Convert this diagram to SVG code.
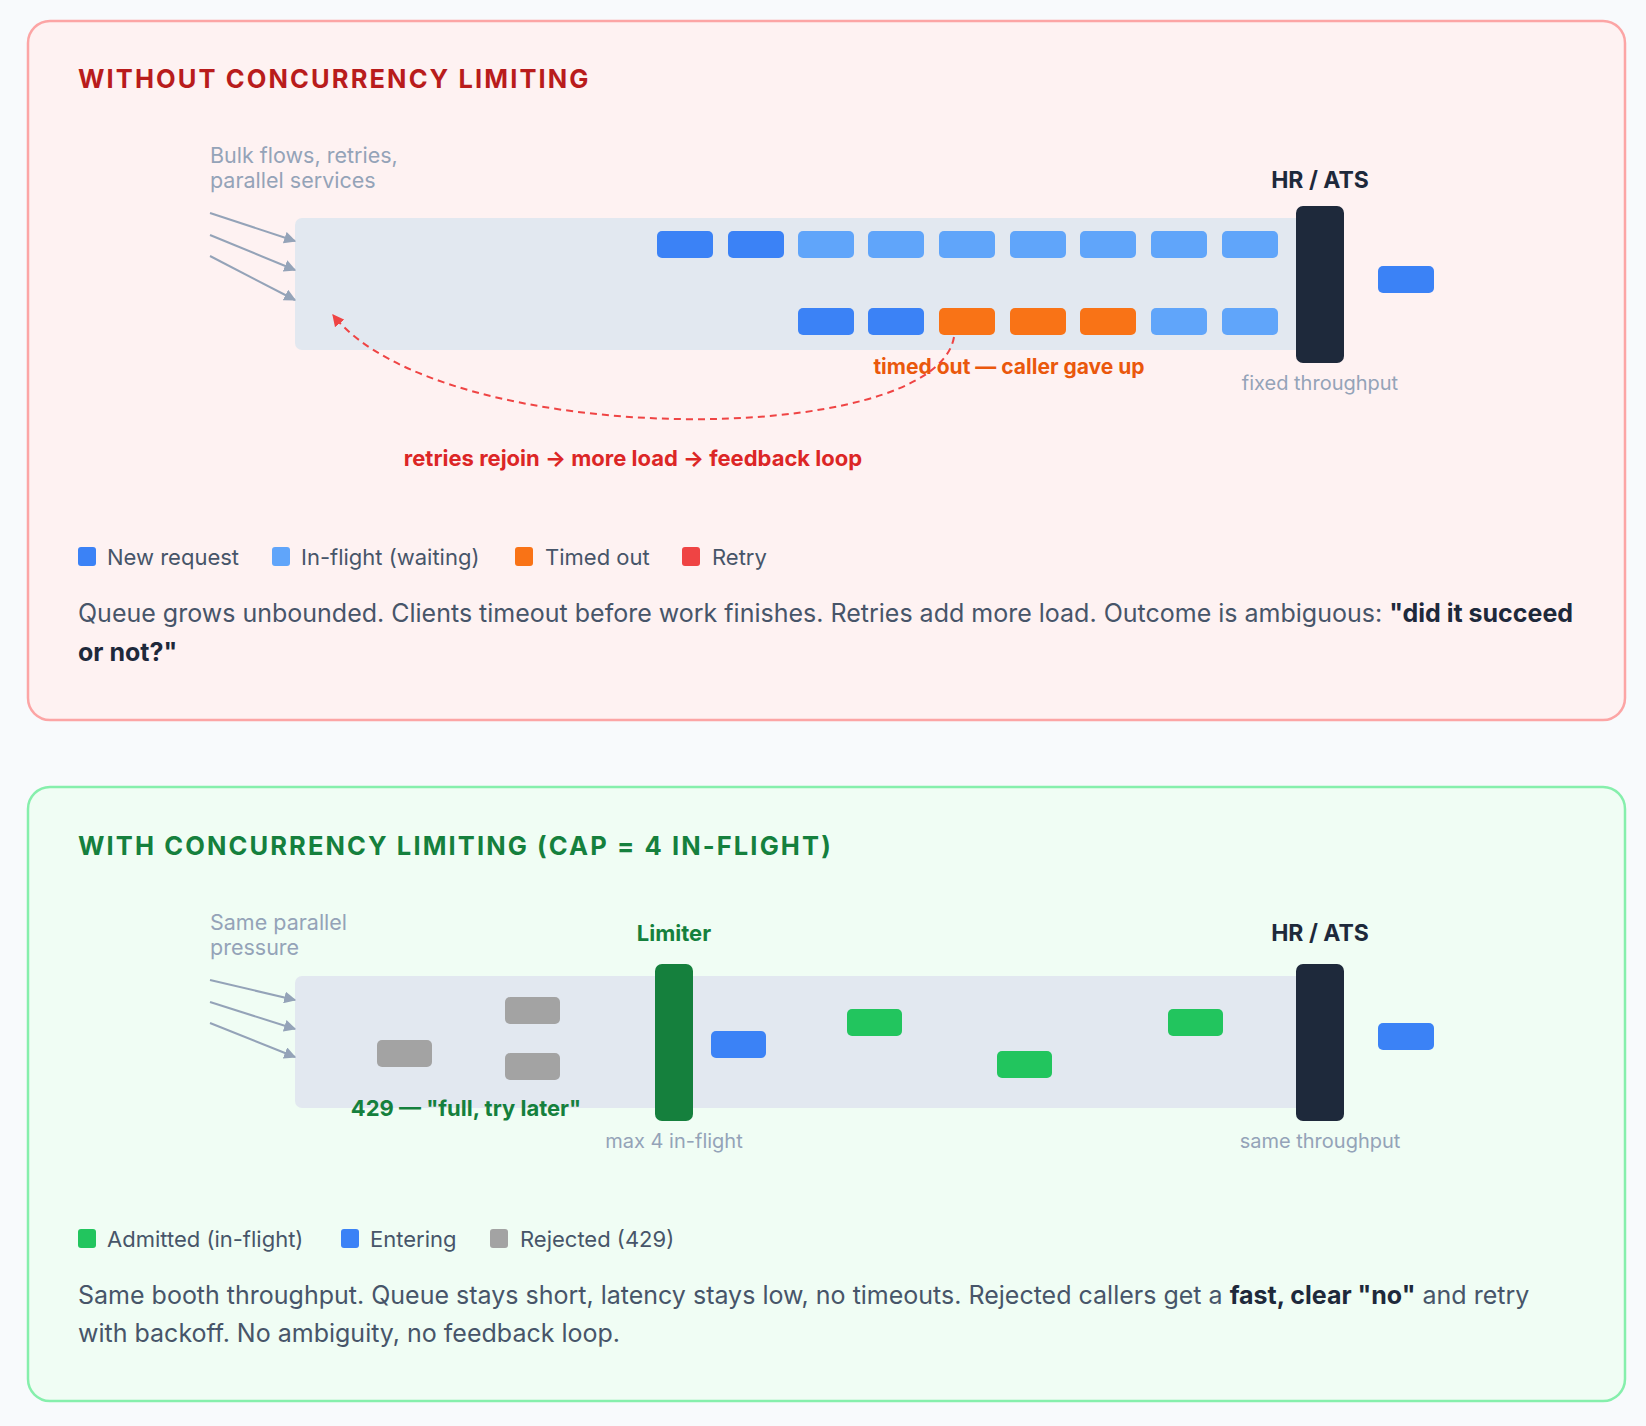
<svg xmlns="http://www.w3.org/2000/svg" width="1646" height="1426" viewBox="0 0 1646 1426">
<defs>
<style>
text{font-family:Inter,"Liberation Sans","DejaVu Sans",sans-serif}
.title{font-size:25.5px;font-weight:700;letter-spacing:2.1px}
.note{font-size:21.5px;fill:#94a3b8}
.small{font-size:20px;fill:#94a3b8}
.hdr{font-size:23px;font-weight:700;fill:#1e293b}
.leg{font-size:22px;fill:#475569}
.para{font-size:25px;fill:#475569}
.para .b{font-weight:700;fill:#1e293b}
.lane{fill:#e2e8f0}
.new{fill:#3b82f6}
.wait{fill:#60a5fa}
.tout{fill:#f97316}
.retry{fill:#ef4444}
.adm{fill:#22c55e}
.rej{fill:#a3a3a3}
.inarrow{stroke:#94a3b8;stroke-width:2;fill:none}
</style>
<marker id="ag" viewBox="0 0 10 10" refX="9" refY="5" markerWidth="6" markerHeight="6" orient="auto" markerUnits="strokeWidth"><path d="M0,0 L10,5 L0,10 z" fill="#94a3b8"/></marker>
<marker id="ar" viewBox="0 0 10 10" refX="9" refY="5" markerWidth="6" markerHeight="6" orient="auto" markerUnits="strokeWidth"><path d="M0,0 L10,5 L0,10 z" fill="#ef4444"/></marker>
</defs>
<rect width="1646" height="1426" fill="#f8fafc"/>

<!-- TOP PANEL -->
<g id="panel-without">
<rect x="28" y="21" width="1597" height="699" rx="22" fill="#fef2f2" stroke="#fca5a5" stroke-width="2.5"/>
<text class="title" x="78" y="88" fill="#b91c1c">WITHOUT CONCURRENCY LIMITING</text>
</g>
<g id="sources-top">
<text class="note" x="210" y="163">Bulk flows, retries,</text>
<text class="note" x="210" y="188">parallel services</text>
</g>
<g id="queue-top">
<rect class="lane" x="295" y="218" width="1010" height="132" rx="7"/>
<g id="row1">
<rect class="new" x="657" y="231" width="56" height="27" rx="5"/>
<rect class="new" x="728" y="231" width="56" height="27" rx="5"/>
<rect class="wait" x="798" y="231" width="56" height="27" rx="5"/>
<rect class="wait" x="868" y="231" width="56" height="27" rx="5"/>
<rect class="wait" x="939" y="231" width="56" height="27" rx="5"/>
<rect class="wait" x="1010" y="231" width="56" height="27" rx="5"/>
<rect class="wait" x="1080" y="231" width="56" height="27" rx="5"/>
<rect class="wait" x="1151" y="231" width="56" height="27" rx="5"/>
<rect class="wait" x="1222" y="231" width="56" height="27" rx="5"/>
</g>
<g id="row2">
<rect class="new" x="798" y="308" width="56" height="27" rx="5"/>
<rect class="new" x="868" y="308" width="56" height="27" rx="5"/>
<rect class="tout" x="939" y="308" width="56" height="27" rx="5"/>
<rect class="tout" x="1010" y="308" width="56" height="27" rx="5"/>
<rect class="tout" x="1080" y="308" width="56" height="27" rx="5"/>
<rect class="wait" x="1151" y="308" width="56" height="27" rx="5"/>
<rect class="wait" x="1222" y="308" width="56" height="27" rx="5"/>
</g>
</g>
<g id="hr-top">
<text class="hdr" x="1320" y="188" text-anchor="middle">HR / ATS</text>
<rect x="1296" y="206" width="48" height="157" rx="7" fill="#1e293b"/>
<text class="small" x="1320" y="390" text-anchor="middle">fixed throughput</text>
</g>
<g id="out-top">
<rect class="new" x="1378" y="266" width="56" height="27" rx="5"/>
</g>
<g id="labels-top">
<text x="1009" y="374" text-anchor="middle" font-size="21" font-weight="700" fill="#ea580c">timed out — caller gave up</text>
<text x="633" y="466" text-anchor="middle" font-size="22" font-weight="700" fill="#dc2626">retries rejoin → more load → feedback loop</text>
</g>
<g id="connectors-top">
<line class="inarrow" x1="210" y1="213" x2="295" y2="241" marker-end="url(#ag)"/>
<line class="inarrow" x1="210" y1="235" x2="295" y2="270" marker-end="url(#ag)"/>
<line class="inarrow" x1="210" y1="256" x2="295" y2="300" marker-end="url(#ag)"/>
<path d="M954,337 C935,450 440,450 333,315" fill="none" stroke="#ef4444" stroke-width="2" stroke-dasharray="7 5" marker-end="url(#ar)"/>
</g>
<g id="legend-top">
<rect class="new" x="78" y="547" width="18" height="19" rx="3"/>
<text class="leg" x="107" y="565">New request</text>
<rect class="wait" x="272" y="547" width="18" height="19" rx="3"/>
<text class="leg" x="301" y="565">In-flight (waiting)</text>
<rect class="tout" x="515" y="547" width="18" height="19" rx="3"/>
<text class="leg" x="545" y="565">Timed out</text>
<rect class="retry" x="682" y="547" width="18" height="19" rx="3"/>
<text class="leg" x="712" y="565">Retry</text>
</g>
<g id="para-top">
<text class="para" x="78" y="622">Queue grows unbounded. Clients timeout before work finishes. Retries add more load. Outcome is ambiguous: <tspan class="b">"did it succeed</tspan></text>
<text class="para" x="78" y="661"><tspan class="b">or not?"</tspan></text>
</g>

<!-- BOTTOM PANEL -->
<g id="panel-with">
<rect x="28" y="787" width="1597" height="614" rx="22" fill="#f0fdf4" stroke="#86efac" stroke-width="2.5"/>
<text class="title" x="78" y="855" fill="#15803d">WITH CONCURRENCY LIMITING (CAP = 4 IN-FLIGHT)</text>
</g>
<g id="sources-bottom">
<text class="note" x="210" y="930">Same parallel</text>
<text class="note" x="210" y="955">pressure</text>
</g>
<g id="queue-bottom">
<rect class="lane" x="295" y="976" width="1010" height="132" rx="7"/>
<rect class="rej" x="377" y="1040" width="55" height="27" rx="5"/>
<rect class="rej" x="505" y="997" width="55" height="27" rx="5"/>
<rect class="rej" x="505" y="1053" width="55" height="27" rx="5"/>
<rect class="new" x="711" y="1031" width="55" height="27" rx="5"/>
<rect class="adm" x="847" y="1009" width="55" height="27" rx="5"/>
<rect class="adm" x="997" y="1051" width="55" height="27" rx="5"/>
<rect class="adm" x="1168" y="1009" width="55" height="27" rx="5"/>
</g>
<g id="limiter">
<text x="674" y="941" text-anchor="middle" font-size="22" font-weight="700" fill="#15803d">Limiter</text>
<rect x="655" y="964" width="38" height="157" rx="7" fill="#15803d"/>
<text class="small" x="674" y="1148" text-anchor="middle">max 4 in-flight</text>
</g>
<g id="reject-label">
<text x="466" y="1116" text-anchor="middle" font-size="22" font-weight="700" fill="#15803d">429 — "full, try later"</text>
</g>
<g id="hr-bottom">
<text class="hdr" x="1320" y="941" text-anchor="middle">HR / ATS</text>
<rect x="1296" y="964" width="48" height="157" rx="7" fill="#1e293b"/>
<text class="small" x="1320" y="1148" text-anchor="middle">same throughput</text>
</g>
<g id="out-bottom">
<rect class="new" x="1378" y="1023" width="56" height="27" rx="5"/>
</g>
<g id="connectors-bottom">
<line class="inarrow" x1="210" y1="980" x2="295" y2="1000" marker-end="url(#ag)"/>
<line class="inarrow" x1="210" y1="1002" x2="295" y2="1029" marker-end="url(#ag)"/>
<line class="inarrow" x1="210" y1="1023" x2="295" y2="1057" marker-end="url(#ag)"/>
</g>
<g id="legend-bottom">
<rect class="adm" x="78" y="1229" width="18" height="19" rx="3"/>
<text class="leg" x="107" y="1247">Admitted (in-flight)</text>
<rect class="new" x="341" y="1229" width="18" height="19" rx="3"/>
<text class="leg" x="370" y="1247">Entering</text>
<rect class="rej" x="490" y="1229" width="18" height="19" rx="3"/>
<text class="leg" x="520" y="1247">Rejected (429)</text>
</g>
<g id="para-bottom">
<text class="para" x="78" y="1304">Same booth throughput. Queue stays short, latency stays low, no timeouts. Rejected callers get a <tspan class="b">fast, clear "no"</tspan> and retry</text>
<text class="para" x="78" y="1342">with backoff. No ambiguity, no feedback loop.</text>
</g>
</svg>
